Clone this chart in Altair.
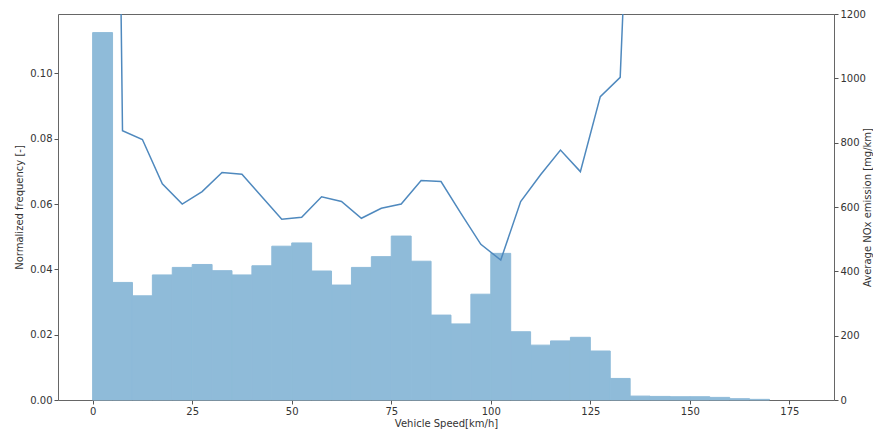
import altair as alt
import pandas as pd

# Histogram bins (km/h)
bin_start = [0, 5, 10, 15, 20, 25, 30, 35, 40, 45, 50, 55, 60, 65, 70, 75, 80, 85,
             90, 95, 100, 105, 110, 115, 120, 125, 130, 135, 140, 145, 150, 155, 160, 165]
bin_end = [5, 10, 15, 20, 25, 30, 35, 40, 45, 50, 55, 60, 65, 70, 75, 80, 85, 90,
           95, 100, 105, 110, 115, 120, 125, 130, 135, 140, 145, 150, 155, 160, 165, 170]
freq = [0.1125, 0.0360, 0.0319, 0.0383, 0.0406, 0.0415, 0.0396, 0.0383, 0.0411, 0.0471,
        0.0481, 0.0395, 0.0352, 0.0406, 0.0439, 0.0502, 0.0425, 0.0260, 0.0233, 0.0324,
        0.0449, 0.0209, 0.0168, 0.0181, 0.0192, 0.0150, 0.0066, 0.0012, 0.0011, 0.0010,
        0.0010, 0.0008, 0.0004, 0.0002]

# Average NOx emission per speed bin (bin centres)
speed_mid = [2.5, 7.5, 12.5, 17.5, 22.5, 27.5, 32.5, 37.5, 42.5, 47.5, 52.5, 57.5, 62.5, 67.5,
             72.5, 77.5, 82.5, 87.5, 92.5, 97.5, 102.5, 107.5, 112.5, 117.5, 122.5, 127.5,
             132.5, 137.5]
nox = [6000, 837, 810, 672, 609, 648, 707, 702, 632, 562, 568, 632, 617, 565,
       596, 609, 682, 679, 580, 484, 435, 617, 700, 777, 710, 943,
       1003, 2500]

x_ticks = [0, 25, 50, 75, 100, 125, 150, 175]
freq_ticks = [0.0, 0.02, 0.04, 0.06, 0.08, 0.10]
nox_ticks = [0, 200, 400, 600, 800, 1000, 1200]

df_bars = pd.DataFrame({"start": bin_start, "end": bin_end, "freq": freq})
df_line = pd.DataFrame({"speed": speed_mid, "nox": nox})

W, H = 776, 386
x_scale = alt.Scale(domain=[-8.7, 186.2], nice=False, zero=False)
x_axis = alt.Axis(values=x_ticks, title="Vehicle Speed[km/h]", titleX=W / 2, titleY=23,
                  titleBaseline="middle", titleAlign="center", labelPadding=2)

bars = alt.Chart(df_bars).mark_bar(color="#8fbbd9", stroke="#8fbbd9", strokeWidth=1).encode(
    x=alt.X("start:Q", scale=x_scale, axis=x_axis),
    x2="end:Q",
    y=alt.Y("freq:Q", scale=alt.Scale(domain=[0, 0.1182], nice=False),
            axis=alt.Axis(orient="left", values=freq_ticks, format=".2f",
                          title="Normalized frequency [-]", titleAngle=270,
                          titleX=-39, titleY=H / 2, titleBaseline="middle",
                          titleAlign="center", labelPadding=2)),
    y2=alt.datum(0),
)

line = alt.Chart(df_line).mark_line(color="#4f89be", strokeWidth=1.5, clip=True).encode(
    x=alt.X("speed:Q", scale=x_scale, axis=x_axis),
    y=alt.Y("nox:Q", scale=alt.Scale(domain=[0, 1200], nice=False),
            axis=alt.Axis(orient="right", values=nox_ticks, format="d",
                          title="Average NOx emission [mg/km]", titleAngle=270,
                          titleX=33, titleY=H / 2, titleBaseline="middle",
                          titleAlign="center", labelPadding=2)),
)

chart = alt.layer(bars, line).resolve_scale(y="independent").properties(
    width=W, height=H,
    autosize=alt.AutoSizeParams(type="none"),
    padding={"left": 50, "top": 6, "right": 39, "bottom": 31},
).configure_view(stroke="#666666", strokeWidth=1).configure_axis(
    grid=False, domain=False,
    tickSize=4, tickColor="#555555", tickWidth=1,
    labelFont="DejaVu Sans", labelFontSize=10, labelColor="#333333",
    titleFont="DejaVu Sans", titleFontSize=10, titleFontWeight="normal", titleColor="#333333",
)

chart.save("out.html", embed_options={"renderer": "svg", "actions": False})
